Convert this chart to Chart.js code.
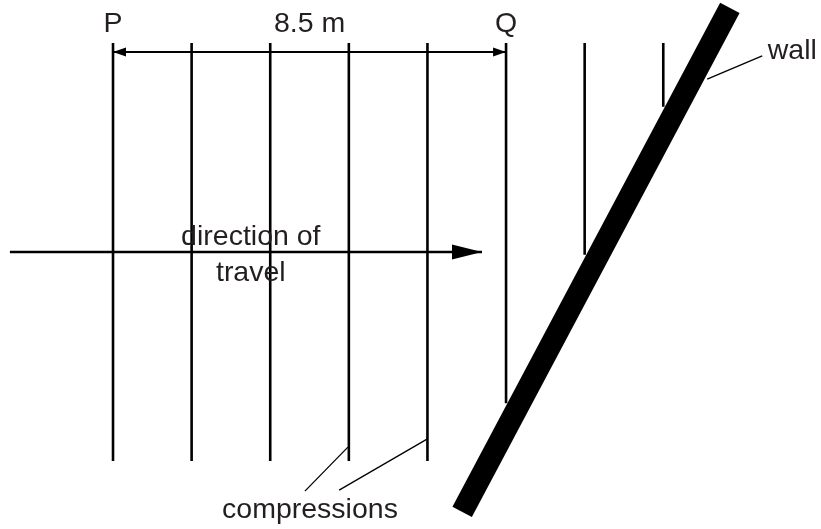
<!DOCTYPE html>
<html>
<head>
<meta charset="utf-8">
<script src="https://cdn.jsdelivr.net/npm/chart.js@4.4.1/dist/chart.umd.min.js"></script>
<style>
  html, body { margin: 0; padding: 0; background: #fff; }
  canvas { display: block; }
</style>
</head>
<body>
<canvas id="wave" width="821" height="529"></canvas>
<script>
// all positions in metres; P is x = 0, the direction-of-travel arrow is y = 0
const compressionX = [0, 1.7, 3.4, 5.1, 6.8, 8.5, 10.2, 11.9];
const compressionTop = 4.52;
const compressionBottom = [-4.52, -4.52, -4.52, -4.52, -4.52, -3.27, -0.06, 3.14];
const distanceLabel = '8.5 m';
const distanceY = 4.325;
const wallX = [13.34, 7.55];
const wallY = [5.28, -5.62];
const travelX = [-2.23, 7.98];
const wallLeaderX = [12.85, 14.04];
const wallLeaderY = [3.74, 4.24];
const compLeader1X = [4.15, 5.08];
const compLeader1Y = [-5.17, -4.22];
const compLeader2X = [4.89, 6.8];
const compLeader2Y = [-5.15, -4.04];

// text labels: [text, x, baseline y, align]
const labels = [
  ['P', 0, 4.76, 'center'],
  ['Q', 8.5, 4.76, 'center'],
  [distanceLabel, 4.25, 4.76, 'center'],
  ['wall', 14.16, 4.17, 'left'],
  ['direction of', 2.98, 0.15, 'center'],
  ['travel', 2.98, -0.63, 'center'],
  ['compressions', 4.26, -5.75, 'center']
];

const seg = (xs, ys) => xs.map((x, i) => ({ x: x, y: ys[i] }));
const lineSet = (data, width) => ({
  data: data,
  showLine: true,
  borderColor: '#000',
  borderWidth: width,
  borderCapStyle: 'butt',
  pointRadius: 0,
  pointHoverRadius: 0,
  fill: false
});

const datasets = [];
compressionX.forEach((x, i) => {
  datasets.push(lineSet([{ x: x, y: compressionTop }, { x: x, y: compressionBottom[i] }], 2.6));
});
datasets.push(lineSet(seg([0, 8.5], [distanceY, distanceY]), 2));
datasets.push(lineSet(seg(travelX, [0, 0]), 2.5));
datasets.push(lineSet(seg(wallLeaderX, wallLeaderY), 1.3));
datasets.push(lineSet(seg(compLeader1X, compLeader1Y), 1.3));
datasets.push(lineSet(seg(compLeader2X, compLeader2Y), 1.3));
datasets.push(lineSet(seg(wallX, wallY), 22));

// arrowheads and text, placed through the chart scales
const extras = {
  id: 'extras',
  afterDatasetsDraw(chart) {
    const ctx = chart.ctx;
    const sx = chart.scales.x, sy = chart.scales.y;
    const head = (x, y, dir, len, half) => {
      const px = sx.getPixelForValue(x), py = sy.getPixelForValue(y);
      ctx.beginPath();
      ctx.moveTo(px, py);
      ctx.lineTo(px - dir * len, py - half);
      ctx.lineTo(px - dir * len, py + half);
      ctx.closePath();
      ctx.fill();
    };
    ctx.save();
    ctx.fillStyle = '#000';
    head(0, distanceY, -1, 13, 4.5);
    head(8.5, distanceY, 1, 13, 4.5);
    head(travelX[1], 0, 1, 30, 7.5);
    ctx.fillStyle = '#231f20';
    ctx.font = '28.5px "Liberation Sans", Arial, Helvetica, sans-serif';
    ctx.textBaseline = 'alphabetic';
    labels.forEach(l => {
      ctx.textAlign = l[3];
      ctx.fillText(l[0], sx.getPixelForValue(l[1]), sy.getPixelForValue(l[2]));
    });
    ctx.restore();
  }
};

new Chart(document.getElementById('wave').getContext('2d'), {
  type: 'scatter',
  data: { datasets: datasets },
  options: {
    responsive: false,
    animation: false,
    layout: { padding: 0 },
    plugins: { legend: { display: false }, tooltip: { enabled: false } },
    events: [],
    scales: {
      x: { type: 'linear', display: false, min: -2.444, max: 15.311 },
      y: { type: 'linear', display: false, min: -5.99, max: 5.45 }
    }
  },
  plugins: [extras]
});
</script>
</body>
</html>
